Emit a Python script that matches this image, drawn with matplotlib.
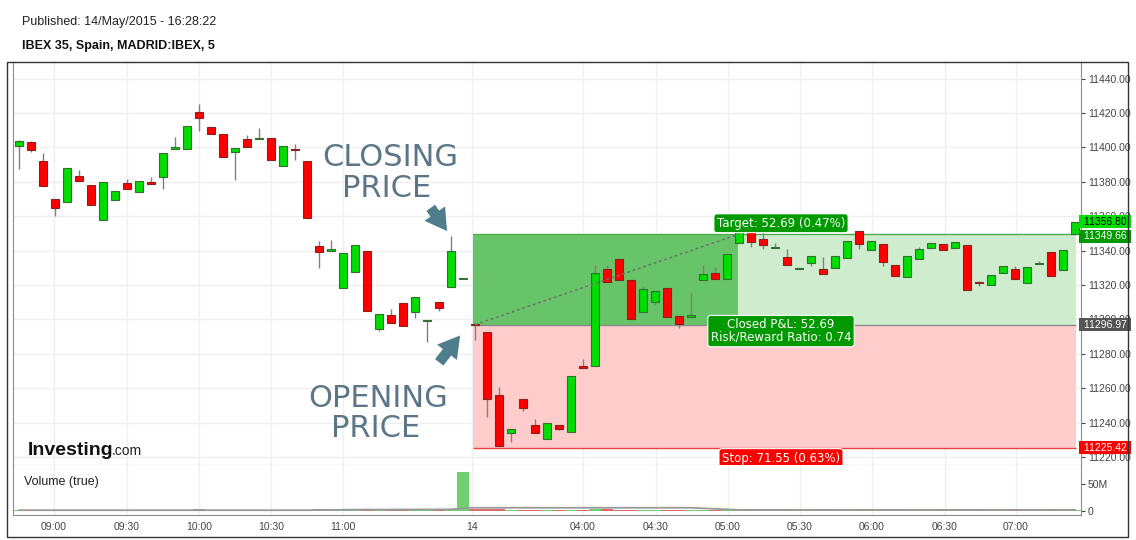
import matplotlib
matplotlib.use("Agg")
import matplotlib.pyplot as plt
from matplotlib.patches import Rectangle
import numpy as np

plt.rcParams['font.family'] = ['Liberation Sans', 'DejaVu Sans']

# 5 minute candles, IBEX 35 (13 May late morning -> 14 May early)
opens = [11401, 11403, 11392, 11370, 11368.5, 11383.6, 11378, 11358, 11369.3, 11379.4,
         11374, 11379.8, 11383, 11399, 11399, 11420.5, 11412, 11408, 11397.4, 11404.8,
         11404.8, 11405.3, 11389, 11398.8, 11392, 11343, 11339.6, 11318.5, 11327.4, 11339.6,
         11294.3, 11302.8, 11309.8, 11304.2, 11299.2, 11310, 11319.1, 11323.3, 11297.2, 11292.7,
         11256, 11233.8, 11253.8, 11238.7, 11230.4, 11238.7, 11234.4, 11273, 11272.8, 11329.2,
         11335.2, 11323, 11304.2, 11310, 11318.5, 11302.2, 11301.3, 11323, 11326.9, 11323.4,
         11344.7, 11352.4, 11346.8, 11341.6, 11336.2, 11329.4, 11333, 11329.5, 11329.8, 11335.8,
         11351.6, 11340.2, 11344.1, 11331.7, 11324.7, 11335.2, 11341.6, 11344.1, 11341.6, 11343.5,
         11321.3, 11320, 11326.9, 11329.5, 11321.4, 11332.1, 11339.1, 11328.6, 11349.7]
highs = [11404.5, 11403.5, 11397, 11370, 11388, 11386.7, 11378, 11380, 11374.7, 11381.5,
         11380.3, 11382.7, 11397, 11406, 11412.7, 11425, 11412, 11408, 11399.7, 11407.3,
         11411.2, 11405.3, 11401, 11402, 11392, 11345.8, 11346.4, 11338.5, 11343.3, 11339.6,
         11303.4, 11306.3, 11309.8, 11313.3, 11299.6, 11310, 11348.5, 11323.5, 11297.2, 11292.7,
         11260.7, 11236.5, 11253.8, 11242, 11240, 11238.7, 11267.3, 11276.9, 11331.7, 11331.7,
         11335.2, 11323, 11319.5, 11316.7, 11318.5, 11302.2, 11315.2, 11331.7, 11330.3, 11337.9,
         11352.6, 11352.4, 11353, 11344.5, 11341, 11330, 11336.9, 11336.2, 11336.7, 11345.6,
         11351.6, 11345.6, 11344.1, 11331.7, 11336.7, 11342.2, 11344.3, 11344.1, 11345.1, 11343.5,
         11322.4, 11326, 11331.1, 11331, 11330.7, 11334, 11339.1, 11340.2, 11356.8]
lows = [11387.5, 11397.6, 11377.5, 11360.3, 11368.5, 11380.3, 11366.4, 11358, 11369.3, 11376,
        11374, 11378.6, 11375.7, 11399, 11399, 11409.6, 11407.7, 11394.7, 11381, 11400,
        11404.8, 11392.6, 11389, 11393, 11359.2, 11330, 11339.6, 11318.5, 11327.4, 11305,
        11293.5, 11298, 11296.2, 11301, 11286.7, 11305, 11319.1, 11323.3, 11288, 11243.5,
        11226.6, 11229, 11247, 11233.8, 11230.4, 11236, 11234.4, 11271.6, 11272.8, 11322,
        11323, 11300.1, 11304.2, 11308.4, 11301.3, 11295, 11301.3, 11323, 11323.4, 11323.4,
        11344.7, 11342, 11340.8, 11341.6, 11331.9, 11329.4, 11331.3, 11326.5, 11329.8, 11335.8,
        11341.2, 11340.2, 11331.1, 11325.1, 11324.7, 11335.2, 11341.6, 11340.2, 11341.6, 11317.3,
        11319.5, 11320, 11326.9, 11323.7, 11321.4, 11332.1, 11325.1, 11328.6, 11349.7]
closes = [11404, 11398.5, 11377.5, 11364.7, 11388, 11380.3, 11366.4, 11380, 11374.7, 11376,
          11380.3, 11378.6, 11397, 11400.5, 11412.7, 11417, 11407.7, 11394.7, 11399.7, 11400,
          11405.3, 11392.6, 11401, 11398.6, 11359.2, 11339, 11341.2, 11338.5, 11343.3, 11305,
          11303.4, 11298, 11296.2, 11313.3, 11299.6, 11306.9, 11339.6, 11323.5, 11296.9, 11253.8,
          11226.6, 11236.5, 11248.4, 11233.8, 11240, 11236.5, 11267.3, 11271.6, 11326.9, 11322,
          11323, 11300.1, 11317.9, 11316.7, 11301.3, 11297.2, 11302.6, 11326.3, 11323.4, 11337.9,
          11352.6, 11345.2, 11343.1, 11342.2, 11331.9, 11330, 11336.9, 11326.5, 11336.7, 11345.6,
          11343.7, 11345.6, 11333.4, 11325.1, 11336.7, 11340.8, 11344.3, 11340.2, 11345.1, 11317.3,
          11321, 11326, 11331.1, 11323.7, 11330.7, 11332.9, 11325.1, 11340.2, 11356.8]
# volume in millions
volumes = [2.5, 2, 2, 2.5, 1.5, 2, 2, 1.5, 1.5, 2, 1.5, 2, 2, 1.5, 2, 4, 2, 2, 2.5, 1.5,
           2, 2, 2.5, 2, 2.5, 3, 2.5, 2.5, 2, 4, 2.5, 2, 2.5, 2, 1.5, 2, 3, 72, 3, 4,
           3, 2, 2, 2, 2, 2, 2.5, 2, 4, 3, 2, 2, 2, 2, 2, 2, 2.5, 2, 2.5, 3.5,
           2, 2, 2, 2, 2, 2, 2, 2, 2, 2, 2, 2, 2, 2, 2, 2, 2, 2, 2.5, 2,
           2, 2, 2, 2, 2, 2, 2, 2, 2]
vol_ma_x = [0, 24, 28, 36, 37.5, 56, 60, 88]
vol_ma_y = [1.5, 1.5, 2.5, 3, 6, 6, 2, 2]

tick_pos = [2.92, 9, 15, 21, 27, 37.75, 47, 53.08, 59.08, 65.08, 71.08, 77.17, 83.08]
tick_labels = ["09:00", "09:30", "10:00", "10:30", "11:00", "14", "04:00", "04:30",
               "05:00", "05:30", "06:00", "06:30", "07:00"]
price_ticks = list(range(11220, 11441, 20))

entry_idx = 38
exit_idx = 60
entry_price = 11296.97
target_price = 11349.66
stop_price = 11225.42
last_price = 11356.80

W, H = 1136, 540
def fx(px):
    return px / W
def fy(py):
    return 1 - py / H

fig = plt.figure(figsize=(W / 100, H / 100), dpi=100)
ax = fig.add_axes([fx(13), fy(465), fx(1081) - fx(13), fy(62) - fy(465)])
axv = fig.add_axes([fx(13), fy(515), fx(1081) - fx(13), fy(465) - fy(515)], sharex=ax)

x = np.arange(len(opens))
o = np.array(opens)
c = np.array(closes)
up = c >= o
lo = np.minimum(o, c)
hgt = np.maximum(np.abs(c - o), 0.6)

# position tool overlay
x0, x1, x2 = entry_idx - 0.2, exit_idx - 0.1, len(opens) - 0.9
ax.fill_between([x0, x1], entry_price, target_price, color='#68c468', lw=0, zorder=1)
ax.fill_between([x1, x2], entry_price, target_price, color='#cfeccf', lw=0, zorder=1)
ax.fill_between([x0, x2], stop_price, entry_price, color='#ffcccc', lw=0, zorder=1)
ax.hlines(target_price, x0, x2, color='#4cab4c', lw=1, zorder=2)
ax.hlines(entry_price, x0, x2, color='#8a8a8a', lw=1, zorder=2)
ax.hlines(stop_price, x0, x2, color='#e84040', lw=1, zorder=2)

# candles
ax.vlines(x, lows, highs, color='#808080', lw=1, zorder=3)
ax.bar(x[up], hgt[up], bottom=lo[up], width=0.64, color='#00dd00', edgecolor='#336f33', lw=0.8, zorder=4)
ax.bar(x[~up], hgt[~up], bottom=lo[~up], width=0.64, color='#ff0000', edgecolor='#8f2020', lw=0.8, zorder=4)

ax.plot([entry_idx, exit_idx], [entry_price, target_price], ls=(0, (2, 2)), color='#707070', lw=1, zorder=5)

# trade labels
lab_x = (x1 + x2) / 2 - 10.5
ax.text(lab_x, target_price + 6.3, 'Target: 52.69 (0.47%)', family='DejaVu Sans', fontsize=8.5, color='white',
        ha='center', va='center', zorder=8,
        bbox=dict(boxstyle='round,pad=0.25,rounding_size=0.25', fc='#009a00', ec='white', lw=0.8))
ax.text(lab_x, entry_price - 3.7, 'Closed P&L: 52.69\nRisk/Reward Ratio: 0.74', family='DejaVu Sans',
        fontsize=8.5, color='white', ha='center', va='center', linespacing=0.95, zorder=8,
        bbox=dict(boxstyle='round,pad=0.25,rounding_size=0.25', fc='#009a00', ec='white', lw=0.8))
ax.text(lab_x, stop_price - 6, 'Stop: 71.55 (0.63%)', family='DejaVu Sans', fontsize=8.5, color='white',
        ha='center', va='center', zorder=8, clip_on=False,
        bbox=dict(boxstyle='round,pad=0.25,rounding_size=0.25', fc='#ff0000', ec='white', lw=0.8))

# annotations
note_col = '#5b7687'
ax.text(30.9, highs[36] + 40.5, 'CLOSING', family='DejaVu Sans', fontsize=22, color=note_col, ha='center', va='baseline', zorder=6)
ax.text(30.6, highs[36] + 22.5, 'PRICE', family='DejaVu Sans', fontsize=22, color=note_col, ha='center', va='baseline', zorder=6)
ax.text(29.9, entry_price - 48, 'OPENING', family='DejaVu Sans', fontsize=22, color=note_col, ha='center', va='baseline', zorder=6)
ax.text(29.75, entry_price - 65.5, 'PRICE', family='DejaVu Sans', fontsize=22, color=note_col, ha='center', va='baseline', zorder=6)
arrow = dict(arrowstyle='simple,head_length=0.85,head_width=1.0,tail_width=0.42', color='#4e7d8c', mutation_scale=18, lw=0)
ax.annotate('', xy=(entry_idx - 2.2, highs[36] + 1.6), xytext=(-14, 20), textcoords='offset points', arrowprops=arrow, zorder=6)
ax.annotate('', xy=(entry_idx - 1.1, entry_price - 5), xytext=(-17.5, -22.5), textcoords='offset points', arrowprops=arrow, zorder=6)

# right side price tags
tags = [(last_price, '#00dd00', 'black'), (target_price - 1.3, '#009a00', 'white'),
        (entry_price, '#555555', 'white'), (stop_price, '#ff0000', 'white')]
tag_text = ['11356.80', '11349.66', '11296.97', '11225.42']
for (p, fc, tc), t in zip(tags, tag_text):
    ax.text(1.0, p, ' ' + t + ' ', transform=ax.get_yaxis_transform(), ha='left', va='center', fontsize=7.5,
            color=tc, clip_on=False, zorder=10,
            bbox=dict(boxstyle='square,pad=0.15', fc=fc, ec='none'))

ax.set_xlim(-0.5, len(opens) - 0.5)
ax.set_ylim(11215.4, 11449.7)
ax.yaxis.tick_right()
ax.set_yticks(price_ticks)
ax.set_yticklabels(['%.2f' % p for p in price_ticks])
ax.tick_params(axis='y', direction='out', length=3, pad=2, labelsize=7.5, colors='#444444')
ax.set_xticks(tick_pos)
ax.tick_params(axis='x', length=0, labelbottom=False)
ax.grid(True, color='#efefef', lw=1)
ax.set_axisbelow(True)

# volume panel
vcol = ['#4cc44c' if u else '#d04848' for u in up]
axv.bar(x, volumes, width=0.92, color=vcol, alpha=0.8, lw=0, zorder=3)
axv.plot(vol_ma_x, vol_ma_y, color='#999999', lw=1.3, zorder=4)
axv.set_ylim(-7.4, 85.2)
axv.yaxis.tick_right()
axv.set_yticks([0, 50])
axv.set_yticklabels(['0', '50M'])
axv.tick_params(axis='y', direction='out', length=3, pad=2, labelsize=7.5, colors='#444444')
axv.set_xticks(tick_pos)
axv.set_xticklabels(tick_labels)
axv.tick_params(axis='x', length=0, labelsize=7.5, pad=5, colors='#444444')
axv.grid(True, axis='x', color='#efefef', lw=1)
axv.set_axisbelow(True)

for a in (ax, axv):
    a.spines['top'].set_visible(False)
    for s in ('left', 'right', 'bottom'):
        a.spines[s].set_color('#8c8c8c')

# header, logo, frame
fig.text(fx(22), fy(22), 'Published: 14/May/2015 - 16:28:22', fontsize=9, color='#222222', va='center')
fig.text(fx(22), fy(46), 'IBEX 35, Spain, MADRID:IBEX, 5', fontsize=9, weight='bold', color='#111111', va='center')
fig.text(fx(24), fy(482), 'Volume (true)', fontsize=9, color='#222222', va='center')
fig.text(fx(28), fy(455), 'Investing', fontsize=14, weight='bold', color='#111111', va='baseline')
fig.text(fx(112), fy(455), '.com', fontsize=10, color='#222222', va='baseline')
fig.add_artist(Rectangle((fx(7), fy(537)), fx(1128) - fx(7), fy(62) - fy(537), transform=fig.transFigure,
                         fill=False, ec='#333333', lw=1))

fig.savefig('out.png', dpi=100)
